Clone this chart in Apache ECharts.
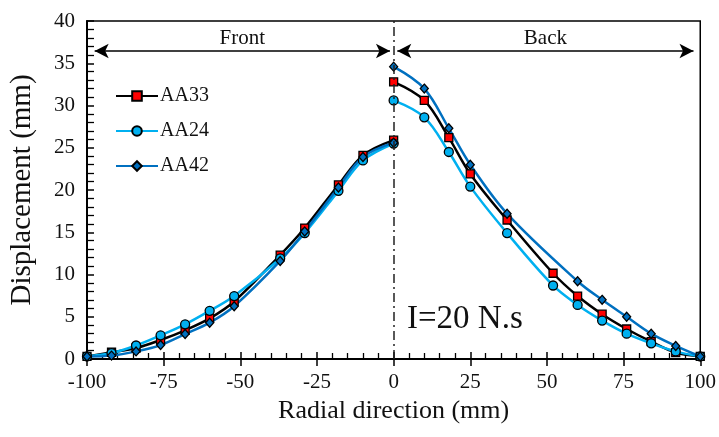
<!DOCTYPE html>
<html>
<head>
<meta charset="utf-8">
<script src="https://cdn.jsdelivr.net/npm/echarts@6/dist/echarts.min.js"></script>
<style>
  html, body { margin: 0; padding: 0; background: #fff; }
  #abc { width: 719px; height: 437px; }
</style>
</head>
<body>
<div id="abc"></div>
<script>
// front side (x < 0) and back side (x > 0) are drawn as separate pieces
let frontX = [-100, -92, -84, -76, -68, -60, -52, -37, -29, -18, -10, 0]
let frontAA33 = [0.3, 0.8, 1.3, 2.25, 3.4, 4.8, 6.8, 12.3, 15.5, 20.6, 24.1, 25.9]
let frontAA24 = [0.3, 0.7, 1.6, 2.8, 4.1, 5.7, 7.45, 11.9, 14.9, 19.9, 23.5, 25.5]
let frontAA42 = [0.3, 0.4, 0.9, 1.65, 2.95, 4.3, 6.25, 11.6, 15.1, 20.3, 23.9, 25.6]

let backX = [0, 10, 18, 25, 37, 52, 60, 68, 76, 84, 92, 100]
let backAA33 = [32.8, 30.6, 26.2, 21.9, 16.45, 10.15, 7.45, 5.3, 3.55, 2.05, 0.75, 0.3]
let backAA24 = [30.6, 28.6, 24.5, 20.4, 14.9, 8.7, 6.4, 4.55, 3.0, 1.85, 0.9, 0.3]
let backX42 = [0, 10, 18, 25, 37, 60, 68, 76, 84, 92, 100]
let backAA42 = [34.6, 32.0, 27.3, 23.0, 17.2, 9.2, 7.0, 5.0, 3.0, 1.55, 0.3]

let xTicks = [-100, -75, -50, -25, 0, 25, 50, 75, 100]
let yTicks = [0, 5, 10, 15, 20, 25, 30, 35, 40]

function pairs(xs, ys) {
    let out = []
    for (let i in xs) {
        out.push([xs[i], ys[i]])
    }
    return out
}

let font = '"Liberation Serif", "Times New Roman", serif'

let styles = {
    AA33: { line: '#000000', fill: '#ff0000', symbol: 'rect', size: 8 },
    AA24: { line: '#00b0f0', fill: '#00b0f0', symbol: 'circle', size: 9 },
    AA42: { line: '#0070c0', fill: '#0070c0', symbol: 'diamond', size: [8, 9] }
}

function makeSeries(name, data) {
    let s = styles[name]
    return {
        name: name,
        type: 'line',
        smooth: 0.35,
        data: data,
        symbol: s.symbol,
        symbolSize: s.size,
        showAllSymbol: true,
        lineStyle: { color: s.line, width: 2.5 },
        itemStyle: { color: s.fill, borderColor: '#000', borderWidth: 1.3 },
        emphasis: { disabled: true },
        animation: false
    }
}

let myChart = echarts.init(document.getElementById('abc'))

let series = [
    makeSeries('AA33', pairs(frontX, frontAA33)),
    makeSeries('AA33', pairs(backX, backAA33)),
    makeSeries('AA24', pairs(frontX, frontAA24)),
    makeSeries('AA24', pairs(backX, backAA24)),
    makeSeries('AA42', pairs(frontX, frontAA42)),
    makeSeries('AA42', pairs(backX42, backAA42))
]

// annotations: centre dash-dot line and Front / Back arrows
series.push({
    type: 'line',
    data: [],
    animation: false,
    z: 1,
    markLine: {
        silent: true,
        animation: false,
        symbol: ['none', 'none'],
        lineStyle: { color: '#222', width: 1.5, type: [9, 4, 2, 4] },
        label: { show: false },
        data: [[{ coord: [0, 0] }, { coord: [0, 40] }]]
    }
})
series.push({
    type: 'line',
    data: [],
    animation: false,
    markLine: {
        silent: true,
        animation: false,
        symbol: ['arrow', 'arrow'],
        symbolSize: [11, 14],
        lineStyle: { color: '#000', width: 1.5, type: 'solid' },
        label: {
            show: true,
            position: 'insideMiddleTop',
            distance: 2,
            fontFamily: font,
            fontSize: 21,
            color: '#111'
        },
        data: [
            [{ coord: [-97.5, 36.45], label: { formatter: 'Front' } }, { coord: [-1.2, 36.45] }],
            [{ coord: [1.2, 36.45], label: { formatter: 'Back' } }, { coord: [97.8, 36.45] }]
        ]
    }
})

let tickLabel = { fontFamily: font, fontSize: 21, color: '#111' }

let option = {
    backgroundColor: '#fff',
    animation: false,
    grid: {
        left: 85, right: 17, top: 21, bottom: 78,
        show: true,
        borderColor: '#000',
        borderWidth: 1.5
    },
    legend: {
        data: ['AA33', 'AA24', 'AA42'],
        orient: 'vertical',
        left: 110,
        top: 81,
        itemGap: 15,
        itemWidth: 42,
        itemHeight: 12,
        textStyle: { fontFamily: font, fontSize: 20, color: '#111', padding: [0, 0, 0, -3] },
        selectedMode: false
    },
    xAxis: [
        {
            type: 'value',
            min: -100,
            max: 100,
            interval: 25,
            name: 'Radial direction (mm)',
            nameLocation: 'middle',
            nameGap: 37,
            nameTextStyle: { fontFamily: font, fontSize: 26, color: '#111' },
            axisLine: { onZero: false, lineStyle: { color: '#000', width: 2 } },
            axisTick: { show: true, inside: false, length: 7, lineStyle: { color: '#000', width: 1.5 } },
            axisLabel: Object.assign({ margin: 13, formatter: function (v) { return xTicks.indexOf(v) >= 0 ? String(v) : '' } }, tickLabel),
            splitLine: { show: false }
        },
        {
            type: 'value',
            min: -100,
            max: 100,
            interval: 25,
            position: 'bottom',
            axisLine: { show: false, onZero: false },
            axisTick: { show: true, inside: true, length: 7, lineStyle: { color: '#000', width: 1.5 } },
            minorTick: { show: true, splitNumber: 5, length: 6, lineStyle: { color: '#000', width: 1.3 } },
            axisLabel: { show: false },
            splitLine: { show: false }
        }
    ],
    yAxis: {
        type: 'value',
        min: 0,
        max: 40,
        interval: 5,
        name: 'Displacement (mm)',
        nameLocation: 'middle',
        nameGap: 50,
        nameTextStyle: { fontFamily: font, fontSize: 29, color: '#111' },
        axisLine: { show: true, onZero: false, lineStyle: { color: '#000', width: 2 } },
        axisTick: { show: true, inside: true, length: 7, lineStyle: { color: '#000', width: 1.5 } },
        minorTick: { show: true, splitNumber: 5, length: 7, lineStyle: { color: '#000', width: 1.3 } },
        axisLabel: Object.assign({ margin: 12 }, tickLabel),
        splitLine: { show: false }
    },
    graphic: [
        {
            type: 'text',
            left: 407,
            top: 303,
            style: { text: 'I=20 N.s', font: '33px ' + font, fill: '#111' }
        }
    ],
    series: series
}

myChart.setOption(option)
</script>
</body>
</html>
